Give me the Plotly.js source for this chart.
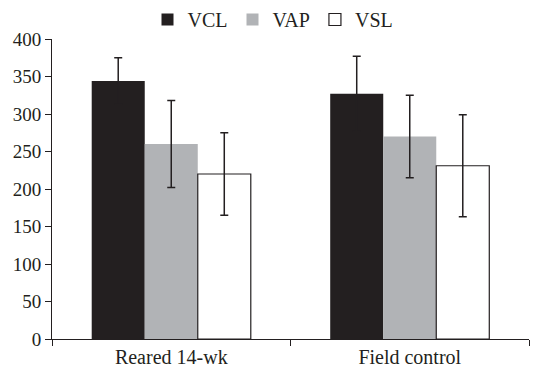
<!DOCTYPE html>
<html>
<head>
<script src="https://cdn.plot.ly/plotly-3.0.1.min.js"></script>
<style>html,body{margin:0;padding:0;background:#fff;}</style>
</head>
<body>
<div id="chart" style="width:546px;height:370px;"></div>
<script>
const categories = ["Reared 14-wk", "Field control"];
const seriesNames = ["VCL", "VAP", "VSL"];
const vcl = [344, 327];
const vap = [260, 270];
const vsl = [220, 231];
const vclErr = [31, 50];
const vapErr = [58, 55];
const vslErr = [55, 68];
const yTicks = [0, 50, 100, 150, 200, 250, 300, 350, 400];

const ink = "#231f20";
const fills = [ink, "#b1b3b6", "#ffffff"];
const values = [vcl, vap, vsl];
const errs = [vclErr, vapErr, vslErr];

const traces = seriesNames.map((name, i) => ({
  type: "bar",
  name: name,
  x: categories,
  y: values[i],
  marker: {color: fills[i], line: {color: i === 2 ? ink : fills[i], width: i === 2 ? 1.2 : 0}},
  error_y: {type: "data", array: errs[i], visible: true, color: ink, thickness: 1.5, width: 4}
}));

const layout = {
  width: 546, height: 370,
  margin: {l: 52, r: 17, t: 39, b: 31, autoexpand: false},
  paper_bgcolor: "#fff", plot_bgcolor: "#fff",
  barmode: "group", bargap: 0.333, bargroupgap: 0,
  font: {family: "Liberation Serif, Times New Roman, serif", size: 20, color: ink},
  showlegend: true,
  legend: {orientation: "h", x: 0.5, xanchor: "center", xref: "container",
           y: 1.0, yanchor: "top", yref: "container",
           font: {size: 20, color: ink}, itemwidth: 30, traceorder: "normal",
           tracegroupgap: 0},
  xaxis: {type: "category", showline: true, linecolor: ink, linewidth: 1,
          ticks: "outside", tickson: "boundaries", ticklen: 6, tickcolor: ink,
          tickfont: {size: 20}, showgrid: false, zeroline: false, fixedrange: true},
  yaxis: {range: [0, 400], tickvals: yTicks, showline: true, linecolor: ink, linewidth: 1,
          ticks: "outside", ticklen: 6, tickcolor: ink, tickfont: {size: 19},
          showgrid: false, zeroline: false, fixedrange: true}
};

Plotly.newPlot("chart", traces, layout, {staticPlot: true, displayModeBar: false});
</script>
</body>
</html>
